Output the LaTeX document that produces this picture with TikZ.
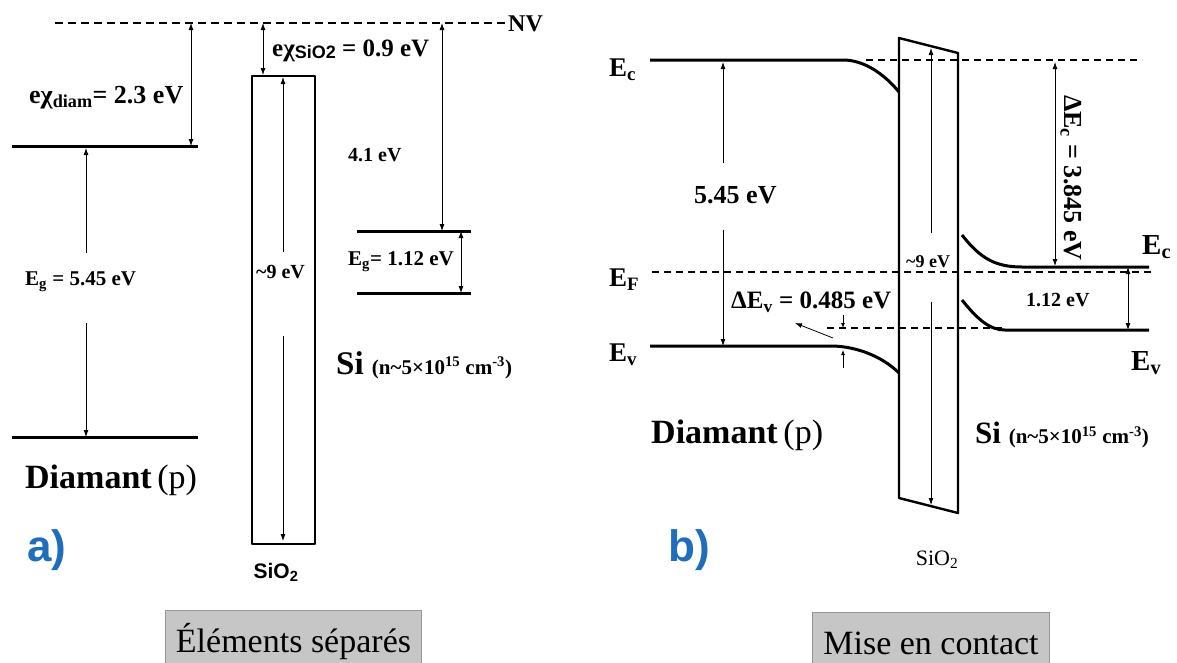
\documentclass[tikz,border=0pt]{standalone}
\usepackage{fontspec}
\setmainfont{Liberation Serif}
\setsansfont{Liberation Sans}
\usetikzlibrary{arrows.meta}
\definecolor{panelblue}{RGB}{31,110,190}
\definecolor{tabgray}{RGB}{198,198,198}
\definecolor{tabedge}{RGB}{150,150,150}
\newcommand{\setfs}[1]{\fontsize{#1}{#1}\selectfont}
\newcommand{\lowsub}[1]{\textsubscript{#1}}

\begin{document}
\begin{tikzpicture}[x=1pt,y=-1pt,
		level/.style={line width=3pt},
		vacuum/.style={line width=1.2pt, dash pattern=on 8pt off 5pt},
		fermi/.style={line width=1.2pt, dash pattern=on 7pt off 5pt},
		dim/.style={line width=0.8pt, -{Latex[length=7pt,width=5pt]}},
		twodim/.style={line width=0.8pt, {Latex[length=7pt,width=5pt]}-{Latex[length=7pt,width=5pt]}},
		tiny/.style={line width=0.8pt, -{Latex[length=5pt,width=4pt]}},
		oxide/.style={line width=2.4pt, line join=round},
		val/.style={font=\bfseries\setfs{#1}, inner sep=0pt, anchor=west},
		val/.default=22,
		tab/.style={draw=tabedge, fill=tabgray, line width=1pt, anchor=north west, inner sep=0pt, font=\setfs{34}}]
	\useasboundingbox (0,0) rectangle (1177,662);

	% a) separate materials
	\coordinate (nvL) at (55,23);
	\coordinate (nvR) at (507,23);
	\draw[vacuum] (nvL) -- (nvR);
	\node[val=24] (nv) at (508,24) {NV};
	\draw[level] (12,146) -- (198,146);
	\draw[level] (12,437) -- (198,437);
	\draw[level] (357,231) -- (471,231);
	\draw[level] (357,293) -- (471,293);
	\node[draw, oxide, minimum width=63pt, minimum height=468pt, anchor=north west, inner sep=0pt] (oxA) at (251,75) {};

	\coordinate (chiDt) at (191,23);  \coordinate (chiDb) at (191,146);
	\coordinate (egDt) at (86,148);   \coordinate (egDu) at (86,253);
	\coordinate (egDl) at (86,323);   \coordinate (egDb) at (86,437);
	\coordinate (chiOt) at (263,23);  \coordinate (chiOb) at (263,75);
	\coordinate (gapAt) at (283,77);  \coordinate (gapAu) at (283,252);
	\coordinate (gapAl) at (283,336); \coordinate (gapAb) at (283,541);
	\coordinate (affSt) at (442,23);  \coordinate (affSb) at (442,231);
	\coordinate (egSt) at (461,231);  \coordinate (egSb) at (461,293);
	\draw[twodim] (chiDt) -- (chiDb);
	\draw[dim] (egDu) -- (egDt);
	\draw[dim] (egDl) -- (egDb);
	\draw[twodim] (chiOt) -- (chiOb);
	\draw[dim] (gapAu) -- (gapAt);
	\draw[dim] (gapAl) -- (gapAb);
	\draw[twodim] (affSt) -- (affSb);
	\draw[twodim] (egSt) -- (egSb);

	\node[val=26] (chiD) at (29,98) {eχ\lowsub{diam}= 2.3 eV};
	\node[val=25] (chiO) at (272,51) {eχ{\sffamily\setfs{18}\raisebox{-2pt}{SiO2}} = 0.9 eV};
	\node[val=20] (affS) at (348,155) {4.1 eV};
	\node[val=21] (egD) at (25,282) {E\lowsub{g} = 5.45 eV};
	\node[val=21] (egS) at (348,262) {E\lowsub{g}= 1.12 eV};
	\node[val=20] (gapA) at (256,272) {\textasciitilde9 eV};
	\node[val=33] (siA) at (336,365) {Si {\setfs{21}(n\textasciitilde5×10\textsuperscript{15} cm\textsuperscript{-3})}};
	\node[val=34, font=\mdseries\setfs{34}] (diaA) at (25,480) {\textbf{Diamant}\,(p)};
	\node[val=44, font=\sffamily\bfseries\setfs{44}, text=panelblue] (tagA) at (27,550) {a)};
	\node[font=\sffamily\bfseries\setfs{21}, inner sep=0pt] (oxAlbl) at (276,572) {SiO\lowsub{2}};
	\node[tab, minimum width=256pt, minimum height=62pt] (tabA) at (165,610) {Éléments séparés};

	% b) in contact
	\draw[level] (650,60) -- (843,60) .. controls (865,60) and (885,75) .. (899,92);
	\draw[level] (650,346) -- (831,346) .. controls (855,346) and (882,356) .. (899,373);
	\draw[oxide] (899,38) -- (958,53) -- (958,513) -- (899,498) -- cycle;
	\draw[fermi] (866,60) -- (1142,60);
	\draw[fermi] (652,272) -- (1151,272);
	\draw[fermi] (827,328) -- (1002,328);
	\draw[level] (962,235) .. controls (980,258) and (995,267) .. (1022,267) -- (1149,267);
	\draw[level] (962,300) .. controls (978,320) and (990,330) .. (1005,330) -- (1149,330);

	\coordinate (egBt) at (723,62);   \coordinate (egBu) at (723,163);
	\coordinate (egBl) at (723,230);  \coordinate (egBb) at (723,346);
	\coordinate (gapBt) at (931,48);  \coordinate (gapBu) at (931,233);
	\coordinate (gapBl) at (931,302); \coordinate (gapBb) at (931,505);
	\coordinate (dEct) at (1055,62);  \coordinate (dEcb) at (1055,266);
	\coordinate (egSBt) at (1128,267); \coordinate (egSBb) at (1128,330);
	\coordinate (dEvt) at (843,315);  \coordinate (dEvu) at (843,328);
	\coordinate (dEvb) at (843,368);  \coordinate (dEvl) at (843,350);
	\coordinate (leadS) at (833,338); \coordinate (leadE) at (795,323);
	\draw[dim] (egBu) -- (egBt);
	\draw[dim] (egBl) -- (egBb);
	\draw[dim] (gapBu) -- (gapBt);
	\draw[dim] (gapBl) -- (gapBb);
	\draw[twodim] (dEct) -- (dEcb);
	\draw[twodim] (egSBt) -- (egSBb);
	\draw[tiny] (dEvt) -- (dEvu);
	\draw[tiny] (dEvb) -- (dEvl);
	\draw[dim] (leadS) -- (leadE);

	\node[val=27] (ecD) at (609,70) {E\lowsub{c}};
	\node[val=27] (efD) at (609,280) {E\lowsub{F}};
	\node[val=27] (evD) at (609,355) {E\lowsub{v}};
	\node[val=26] (egB) at (694,195) {5.45 eV};
	\node[val=25] (dEv) at (731,302) {ΔE\lowsub{v} = 0.485 eV};
	\node[val=18] (gapB) at (906,262) {\textasciitilde9 eV};
	\node[font=\bfseries\setfs{26}, inner sep=0pt, rotate=-90] (dEc) at (1071,178) {ΔE\lowsub{c} = 3.845 eV};
	\node[val=29] (ecS) at (1142,247) {E\lowsub{c}};
	\node[val=29] (evS) at (1131,363) {E\lowsub{v}};
	\node[val=20] (egSB) at (1026,300) {1.12 eV};
	\node[val=34, font=\mdseries\setfs{34}] (diaB) at (651,435) {\textbf{Diamant}\,(p)};
	\node[val=31] (siB) at (975,435) {Si {\setfs{21}(n\textasciitilde5×10\textsuperscript{15} cm\textsuperscript{-3})}};
	\node[val=44, font=\sffamily\bfseries\setfs{44}, text=panelblue] (tagB) at (668,550) {b)};
	\node[font=\setfs{22}, inner sep=0pt] (oxBlbl) at (937,560) {SiO\lowsub{2}};
	\node[tab, minimum width=237pt, minimum height=62pt] (tabB) at (812,612) {Mise en contact};
\end{tikzpicture}
\end{document}
